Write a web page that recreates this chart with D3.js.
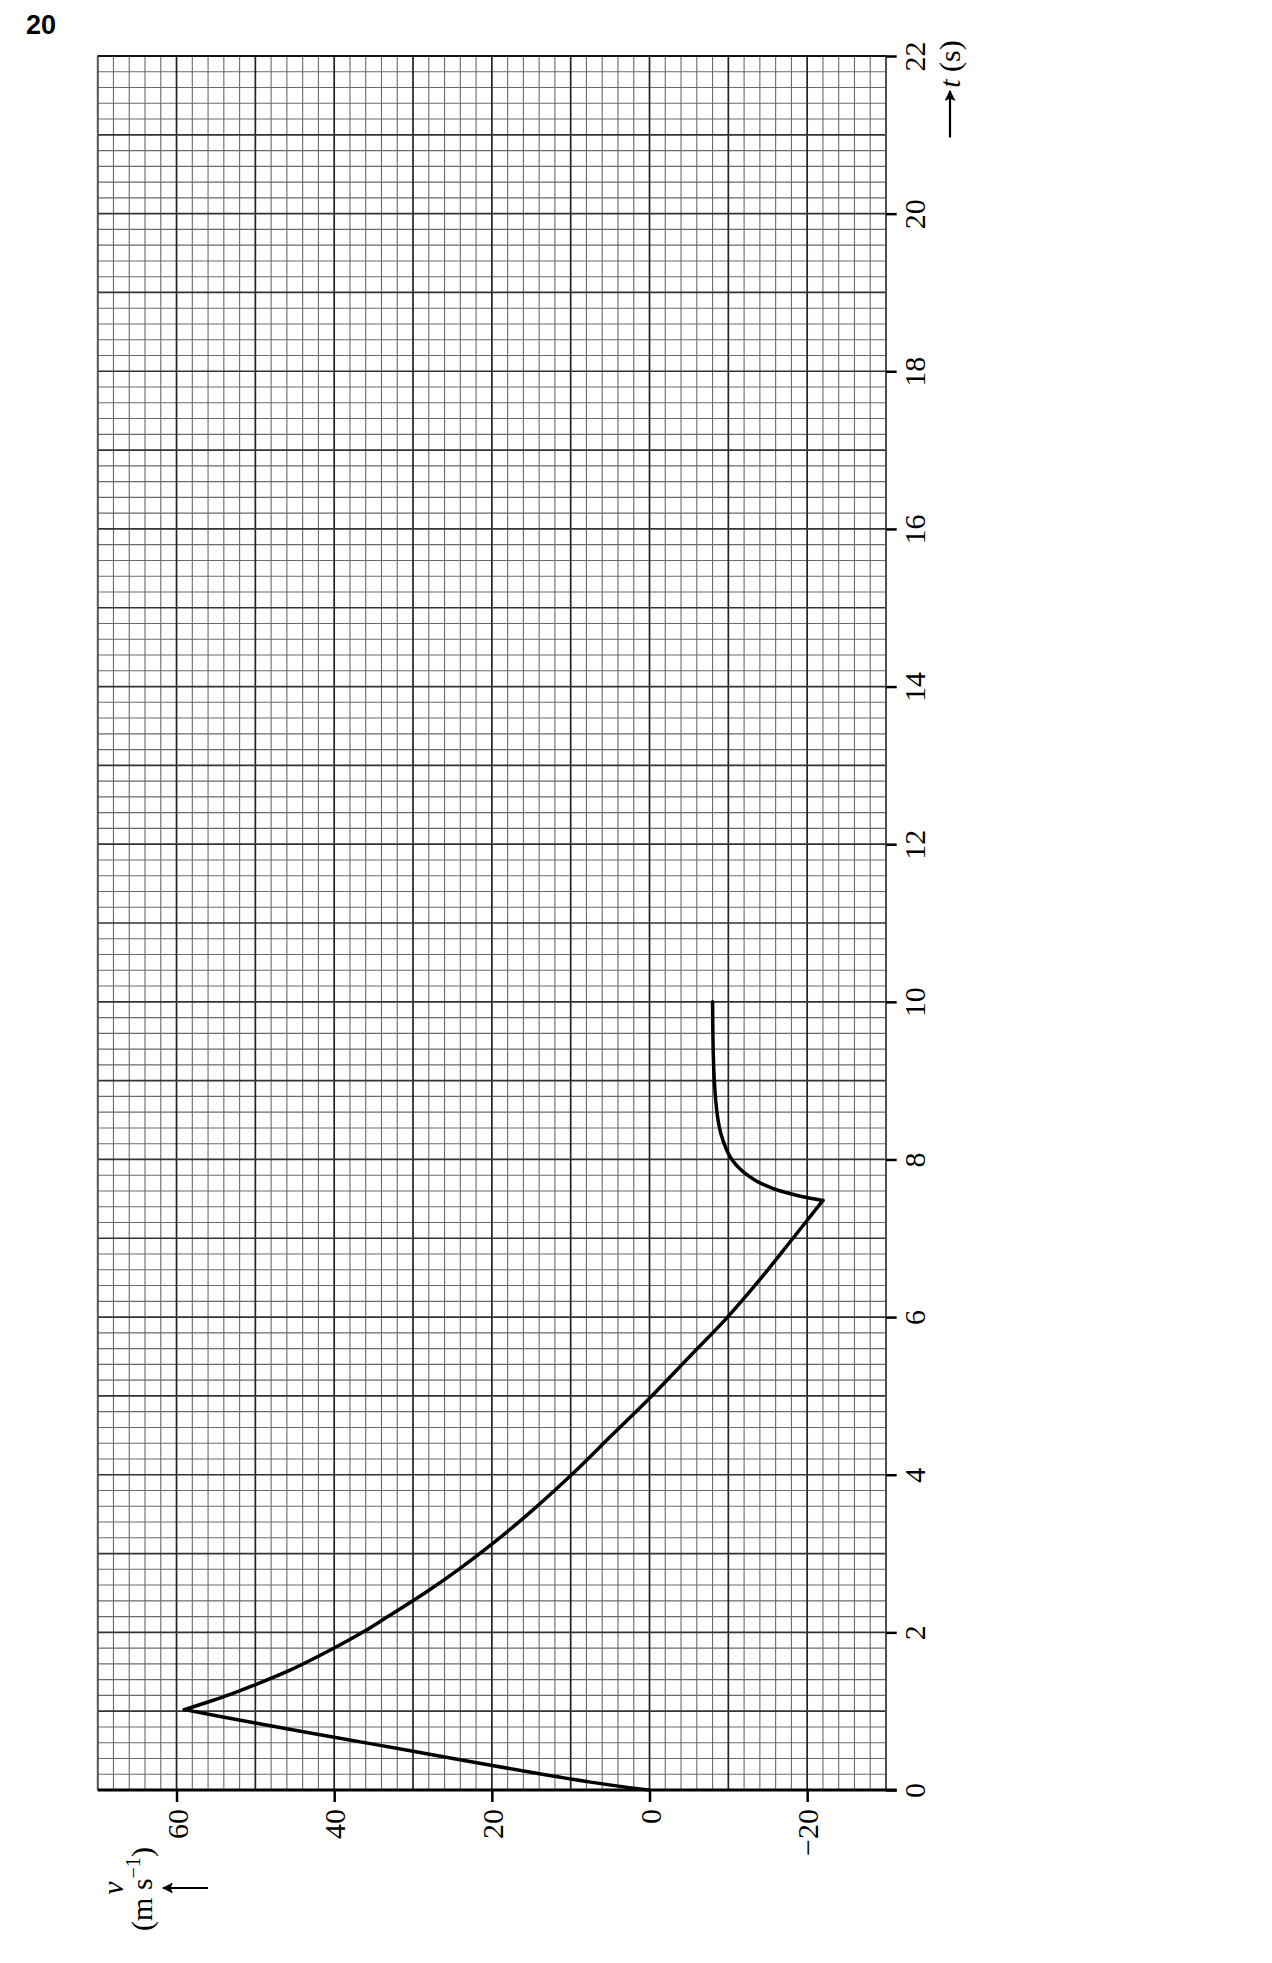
<!DOCTYPE html>
<html>
<head>
<meta charset="utf-8">
<script src="https://cdn.jsdelivr.net/npm/d3@7"></script>
<style>
  html, body { margin: 0; padding: 0; background: #fff; }
  svg { display: block; }
</style>
</head>
<body>
<svg id="chart" width="1272" height="1963"></svg>
<script>
// ---- data (t in s, v in m/s) ----
const riseT   = [0, 0.03, 0.10, 0.20, 0.32, 0.50, 0.67, 0.85, 1.02];
const riseV   = [0, 2.6, 7.5, 13.6, 20.5, 30.5, 40.0, 50.0, 59.0];
const decayT  = [1.02, 1.12, 1.22, 1.32, 1.52, 1.785, 2.0, 2.2, 2.5, 2.8, 3.12, 3.5, 3.98, 4.5, 4.97, 5.5, 6.0, 6.5, 7.0, 7.48];
const decayV  = [59.0, 55.9, 53.0, 50.4, 45.6, 40.3, 36.4, 33.2, 28.5, 24.2, 20.0, 15.4, 10.1, 4.8, 0.0, -5.1, -9.9, -14.2, -18.2, -22.0];
const returnT = [7.48, 7.53, 7.58, 7.63, 7.68, 7.73, 7.83, 7.93, 8.03, 8.13, 8.33, 8.53, 8.75, 9.0, 9.3, 9.6, 10.0];
const returnV = [-22.0, -19.3, -17.3, -15.7, -14.5, -13.5, -12.05, -11.0, -10.25, -9.75, -9.05, -8.65, -8.4, -8.22, -8.1, -8.04, -8.0];

const vTicks = [60, 40, 20, 0, -20];
const vTickLabels = ["60", "40", "20", "0", "\u221220"];
const tTicks = [0, 2, 4, 6, 8, 10, 12, 14, 16, 18, 20, 22];
const vDomain = [70, -30];
const tDomain = [0, 22];

// ---- layout ----
const pL = 97.7, pR = 886, pT = 56, pB = 1790;
const svg = d3.select("#chart");
const x = d3.scaleLinear().domain(vDomain).range([pL, pR]);   // v -> horizontal
const y = d3.scaleLinear().domain(tDomain).range([pB, pT]);   // t -> vertical

// page number
svg.append("text").attr("x", 26).attr("y", 33.5)
  .attr("font-family", "Liberation Sans, Arial, sans-serif")
  .attr("font-weight", "bold").attr("font-size", 27).attr("fill", "#000").text("20");

// ---- grid ----
const grid = svg.append("g");
const vLines = d3.range(-30, 70.001, 2);
const tLines = d3.range(0, 110.5, 1).map(d => d / 5);
const isMajV = d => Math.abs(d % 10) < 1e-6;
const isMajT = d => Math.abs(d - Math.round(d)) < 1e-6;

grid.selectAll("line.vminor").data(vLines.filter(d => !isMajV(d))).join("line")
  .attr("x1", d => x(d)).attr("x2", d => x(d)).attr("y1", pT).attr("y2", pB)
  .attr("stroke", "#6a6a6a").attr("stroke-width", 1.1);
grid.selectAll("line.tminor").data(tLines.filter(d => !isMajT(d))).join("line")
  .attr("y1", d => y(d)).attr("y2", d => y(d)).attr("x1", pL).attr("x2", pR)
  .attr("stroke", "#6a6a6a").attr("stroke-width", 1.1);
grid.selectAll("line.vmajor").data(vLines.filter(isMajV)).join("line")
  .attr("x1", d => x(d)).attr("x2", d => x(d)).attr("y1", pT).attr("y2", pB)
  .attr("stroke", "#222").attr("stroke-width", 1.7);
grid.selectAll("line.tmajor").data(tLines.filter(isMajT)).join("line")
  .attr("y1", d => y(d)).attr("y2", d => y(d)).attr("x1", pL).attr("x2", pR)
  .attr("stroke", "#333").attr("stroke-width", 1.7);

// frame
svg.append("line").attr("x1", pL).attr("x2", pR).attr("y1", pT).attr("y2", pT)
  .attr("stroke", "#111").attr("stroke-width", 1.8);
svg.append("line").attr("x1", pL).attr("x2", pL).attr("y1", pT).attr("y2", pB)
  .attr("stroke", "#555").attr("stroke-width", 1.4);
svg.append("line").attr("x1", pR).attr("x2", pR).attr("y1", pT).attr("y2", pB)
  .attr("stroke", "#555").attr("stroke-width", 1.4);

// ---- axes ----
const serif = "'Liberation Serif', 'Times New Roman', serif";

// v axis (bottom edge)
const vAxis = svg.append("g").attr("transform", `translate(0,${pB})`)
  .call(d3.axisBottom(x).tickValues(vTicks).tickSize(12)
    .tickFormat((d, i) => vTickLabels[i]));
vAxis.select(".domain").remove();
vAxis.selectAll(".tick line").attr("stroke", "#000").attr("stroke-width", 2.5);
vAxis.selectAll(".tick text")
  .attr("x", null).attr("y", null).attr("dy", null)
  .attr("transform", "translate(10.5,19) rotate(-90)")
  .attr("text-anchor", "end")
  .attr("font-family", serif).attr("font-size", 30).attr("fill", "#000");
svg.append("line").attr("x1", pL).attr("x2", pR + 10.7).attr("y1", pB).attr("y2", pB)
  .attr("stroke", "#000").attr("stroke-width", 3);

// t axis (right edge)
const tAxis = svg.append("g").attr("transform", `translate(${pR},0)`)
  .call(d3.axisRight(y).tickValues(tTicks).tickSize(10.7));
tAxis.select(".domain").remove();
tAxis.selectAll(".tick line").attr("stroke", "#000").attr("stroke-width", 2.5);
tAxis.selectAll(".tick text")
  .attr("x", null).attr("y", null).attr("dy", null)
  .attr("transform", "translate(38.5,0) rotate(-90)")
  .attr("text-anchor", "middle")
  .attr("font-family", serif).attr("font-size", 30).attr("fill", "#000");

// arrowheads
const defs = svg.append("defs");
defs.append("marker").attr("id", "ah").attr("viewBox", "0 0 10 10")
  .attr("refX", 9).attr("refY", 5).attr("markerWidth", 5).attr("markerHeight", 5)
  .attr("markerUnits", "strokeWidth").attr("orient", "auto")
  .append("path").attr("d", "M0,0 L10,5 L0,10 L2,5 Z").attr("fill", "#000");

// t axis title
svg.append("line").attr("x1", 950).attr("x2", 950).attr("y1", 137.5).attr("y2", 91)
  .attr("stroke", "#000").attr("stroke-width", 2.2).attr("marker-end", "url(#ah)");
const tTitle = svg.append("text").attr("transform", "translate(960,64) rotate(-90)")
  .attr("text-anchor", "middle").attr("font-family", serif).attr("font-size", 30).attr("fill", "#000");
tTitle.append("tspan").attr("font-style", "italic").text("t");
tTitle.append("tspan").text(" (s)");

// v axis title
svg.append("text").attr("transform", "translate(123,1888) rotate(-90)")
  .attr("text-anchor", "middle").attr("font-family", serif).attr("font-size", 30)
  .attr("font-style", "italic").attr("fill", "#000").text("v");
const vTitle = svg.append("text").attr("transform", "translate(152,1889) rotate(-90)")
  .attr("text-anchor", "middle").attr("font-family", serif).attr("font-size", 30).attr("fill", "#000");
vTitle.append("tspan").text("(m s");
vTitle.append("tspan").attr("font-size", 20).attr("dy", -12).text("\u22121");
vTitle.append("tspan").attr("dy", 12).text(")");
svg.append("line").attr("x1", 208).attr("x2", 163).attr("y1", 1888).attr("y2", 1888)
  .attr("stroke", "#000").attr("stroke-width", 2.2).attr("marker-end", "url(#ah)");

// ---- curve ----
const line = d3.line().x(d => x(d[1])).y(d => y(d[0])).curve(d3.curveCatmullRom.alpha(0.5));
const segs = [
  riseT.map((t, i) => [t, riseV[i]]),
  decayT.map((t, i) => [t, decayV[i]]),
  returnT.map((t, i) => [t, returnV[i]])
];
svg.append("g").selectAll("path").data(segs).join("path")
  .attr("d", line).attr("fill", "none").attr("stroke", "#000")
  .attr("stroke-width", 3.5).attr("stroke-linejoin", "miter").attr("stroke-linecap", "round");
</script>
</body>
</html>
